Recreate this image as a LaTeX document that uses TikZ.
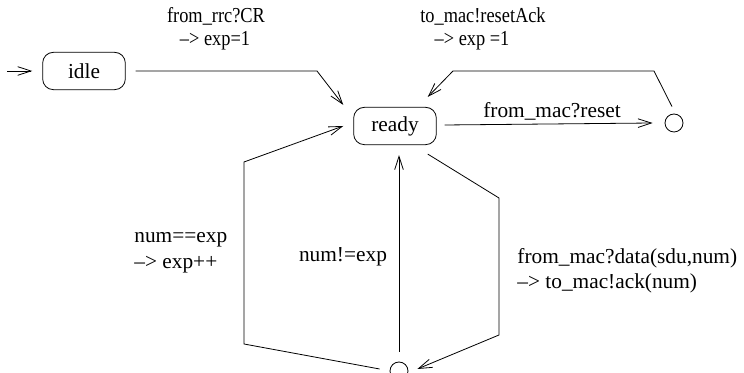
\documentclass[tikz,border=0pt]{standalone}
\usepackage{fontspec}
\usepackage{graphicx}
\setmainfont{Liberation Serif}
\usetikzlibrary{arrows.meta,calc}
\newcommand{\narrow}[1]{\scalebox{0.86}[1]{#1}}
\begin{document}
\begin{tikzpicture}[x=0.75pt,y=-0.75pt,
  line width=0.6pt,
  state/.style={draw,rounded corners=8pt,minimum width=62pt,minimum height=28pt,inner sep=0pt,font=\fontsize{16}{19}\selectfont},
  pseudo/.style={draw,circle,minimum size=13.5pt,inner sep=0pt},
  trans/.style={-{Straight Barb[length=10pt,width=6.5pt]}},
  lbl/.style={inner sep=0pt,font=\fontsize{16}{19}\selectfont}]
\useasboundingbox (0,0) rectangle (744,373);

% states
\node[state] (idle) at (84,71) {idle};
\node[state] (ready) at (395,126) {ready};
\node[pseudo] (reset) at (674,123) {};
\node[pseudo] (recv) at (399,371) {};

% initial transition
\coordinate (init) at (7,71);
\draw[trans] (init) -- ($(idle.west)+(-10,0)$);

% idle -> ready
\coordinate (b1) at (317,71);
\draw[trans] ($(idle.east)+(10,0)$) -- (b1) -- ($(ready.north west)+(-10,-2)$);
\node[lbl] (l1a) at (216,16) {\narrow{from\_rrc?CR}};
\node[lbl] (l1b) at (215,41) {\narrow{\textendash> exp=1}};

% ready -> reset point
\draw[trans] ($(ready.east)+(8,-1)$) -- ($(reset.west)+(-12,0)$);
\node[lbl] (l2) at (552,111) {from\_mac?reset};

% reset point -> ready
\coordinate (b2) at (654,71);
\coordinate (b3) at (453,71);
\draw[trans] ($(reset.north)+(-2,-7)$) -- (b2) -- (b3) -- ($(ready.north east)+(-9,-10)$);
\node[lbl] (l3a) at (483,16) {\narrow{to\_mac!resetAck}};
\node[lbl] (l3b) at (472,41) {\narrow{\textendash> exp =1}};

% ready -> receive point
\coordinate (b4) at (499,198);
\coordinate (b5) at (499,335);
\draw[trans] ($(ready.south east)+(-9,9)$) -- (b4) -- (b5) -- ($(recv.east)+(9,-2)$);
\node[lbl,anchor=west] (l4a) at (517,258) {from\_mac?data(sdu,num)};
\node[lbl,anchor=west] (l4b) at (517,283) {\textendash> to\_mac!ack(num)};

% receive point -> ready (duplicate)
\draw[trans] ($(recv.north)+(0,-10)$) -- ($(ready.south)+(4,10)$);
\node[lbl] (l5) at (343,257) {num!=exp};

% receive point -> ready (in order)
\coordinate (b6) at (244,344);
\coordinate (b7) at (244,162);
\draw[trans] ($(recv.west)+(-10,-2)$) -- (b6) -- (b7) -- ($(ready.west)+(-10,0)$);
\node[lbl,anchor=west] (l6a) at (134,240) {num==exp};
\node[lbl,anchor=west] (l6b) at (134,265) {\textendash> exp++};
\end{tikzpicture}
\end{document}
